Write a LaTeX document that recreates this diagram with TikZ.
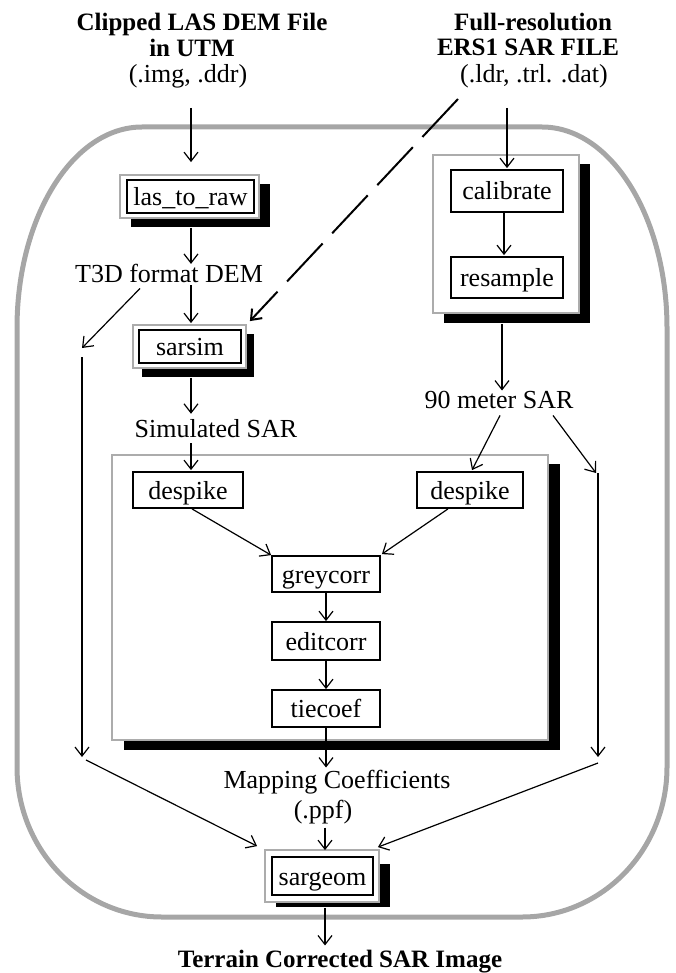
\documentclass[tikz,border=0pt]{standalone}
\usepackage{fontspec}
\setmainfont{Liberation Serif}
\usetikzlibrary{arrows.meta,calc}
\newcommand\fsreg{\fontsize{26}{28}\selectfont}
\newcommand\fsbld{\fontsize{25}{27}\selectfont\bfseries}
\begin{document}
\begin{tikzpicture}[x=1pt,y=-1pt,
  arr/.style={-{Straight Barb[length=9pt,width=14pt]}, line width=1.2pt},
  darr/.style={-{Straight Barb[length=9pt,width=14pt]}, line width=2pt, dash pattern=on 52pt off 14pt},
  box/.style={draw=black, line width=1.8pt, fill=white, inner sep=0pt, font=\fsreg, text height=18pt, text depth=0pt},
  lbl/.style={inner sep=0pt, font=\fsreg, anchor=base},
  ttl/.style={inner sep=0pt, font=\fsbld, anchor=base},
  gframe/.style={draw=gray!65, line width=2.5pt, fill=white},
  blackshadow/.style={fill=black},
  outerframe/.style={draw=gray!70, line width=5pt}]
\useasboundingbox (0,0) rectangle (675,973);

% outer rounded frame
\draw[outerframe] (17,328) .. controls (17,217) and (73,127) .. (142,127) -- (542,127)
  .. controls (611,127) and (667,217) .. (667,328) -- (667,767)
  .. controls (667,850) and (602,917) .. (522,917) -- (162,917)
  .. controls (82,917) and (17,850) .. (17,767) -- cycle;

% titles
\node[ttl] (tl1) at (202,31) {Clipped LAS DEM File};
\node[ttl] (tl2) at (192,57) {in UTM};
\node[lbl] (tl3) at (188,83) {(.img, .ddr)};
\node[ttl] (tr1) at (533,31) {Full-resolution};
\node[ttl] (tr2) at (528,56) {ERS1 SAR FILE};
\node[lbl] (tr3) at (534,83) {(.ldr, .trl. .dat)};

% las_to_raw
\fill[blackshadow] (131,184) rectangle (270,227);
\draw[gframe] (120,175) rectangle (259,218);
\node[box, minimum width=127pt, minimum height=33pt] (las) at (190.5,196.5) {las\_to\_raw};

\node[lbl] (t3d) at (169,283) {T3D format DEM};

% sarsim
\fill[blackshadow] (142,334) rectangle (254,377);
\draw[gframe] (133,325) rectangle (246,368);
\node[box, minimum width=102pt, minimum height=33pt] (sarsim) at (190,346.5) {sarsim};

\node[lbl] (sim) at (216,437) {Simulated SAR};

% calibrate / resample group
\fill[blackshadow] (444,164) rectangle (590,323);
\draw[gframe] (433,155) rectangle (579,313);
\node[box, minimum width=112pt, minimum height=42pt] (cal) at (507,191) {calibrate};
\node[box, minimum width=112pt, minimum height=41pt] (res) at (507,277.5) {resample};

\node[lbl] (m90) at (499,408) {90 meter SAR};

% big group
\fill[blackshadow] (124,464) rectangle (560,750);
\draw[gframe] (112,455) rectangle (548,740);
\node[box, minimum width=110pt, minimum height=36pt] (dsL) at (188,490) {despike};
\node[box, minimum width=106pt, minimum height=36pt] (dsR) at (470,490) {despike};
\node[box, minimum width=108pt, minimum height=36pt] (grey) at (326,574) {greycorr};
\node[box, minimum width=108pt, minimum height=38pt] (edit) at (326,641) {editcorr};
\node[box, minimum width=108pt, minimum height=37pt] (tie) at (326,708.5) {tiecoef};

\node[lbl] (map) at (337,788) {Mapping Coefficients};
\node[lbl] (ppf) at (323,818) {(.ppf)};

% sargeom
\fill[blackshadow] (276,864) rectangle (390,907);
\draw[gframe] (265,850) rectangle (379,902);
\node[box, minimum width=101pt, minimum height=38pt] (sargeom) at (322.5,876) {sargeom};

\node[ttl] (final) at (340,967) {Terrain Corrected SAR Image};

% free ends
\coordinate (lp1) at (82,348);
\coordinate (lp2) at (82,357);
\coordinate (lp3) at (82,757);
\coordinate (lp4) at (86,760);
\coordinate (rp1) at (596,473);
\coordinate (rp2) at (598,473);
\coordinate (rp3) at (598,757);
\coordinate (rp4) at (598,763);
\coordinate (dstart) at (458,99);
\coordinate (lstart) at (191,108);
\coordinate (rstart) at (507,108);

% connectors
\draw[arr] (lstart) -- ($(las.north)+(0.5,-17)$);
\draw[arr] ($(las.south)+(0.5,14)$) -- ($(las.south)+(0.5,50)$);
\draw[arr] ($(t3d.south -| sarsim.north)+(1,2)$) -- ($(sarsim.north)+(1,-6)$);
\draw[arr] ($(t3d.south)+(-29,5)$) -- (lp1);
\draw[arr] (lp2) -- (lp3);
\draw[arr] (lp4) -- ($(sargeom.north west)+(-14,-10)$);
\draw[darr] (dstart) -- ($(sarsim.north east)+(8,-8)$);
\draw[arr] (rstart) -- ($(cal.north)+(0,-1)$);
\draw[arr] ($(cal.south)+(-3,0)$) -- ($(res.north)+(-3,-1)$);
\draw[arr] ($(res.south)+(-5,25)$) -- ($(m90.north)+(3,0)$);
\draw[arr] ($(m90.south)+(1,7)$) -- ($(dsR.north)+(2,-1)$);
\draw[arr] ($(m90.south)+(54,7)$) -- (rp1);
\draw[arr] (rp2) -- (rp3);
\draw[arr] (rp4) -- ($(sargeom.north east)+(4,-9)$);
\draw[arr] ($(sarsim.south)+(1,14)$) -- ($(sim.north -| sarsim)+(1,-5)$);
\draw[arr] ($(sim.south -| sarsim)+(1,6)$) -- ($(dsL.north -| sarsim)+(1,-1)$);
\draw[arr] ($(dsL.south)+(4,0)$) -- (grey.north west);
\draw[arr] ($(dsR.south)+(-22,0)$) -- ($(grey.north east)+(1,-1)$);
\draw[arr] (grey) -- (edit);
\draw[arr] (edit) -- (tie);
\draw[arr] (tie.south) -- ($(tie.south |- map.north)+(0,-2)$);
\draw[arr] ($(ppf.south -| sargeom.north)+(2.5,4)$) -- ($(sargeom.north)+(2.5,-6)$);
\draw[arr] ($(sargeom.south)+(2.5,12)$) -- ($(final.north -| sargeom)+(2.5,-4)$);
\end{tikzpicture}
\end{document}
